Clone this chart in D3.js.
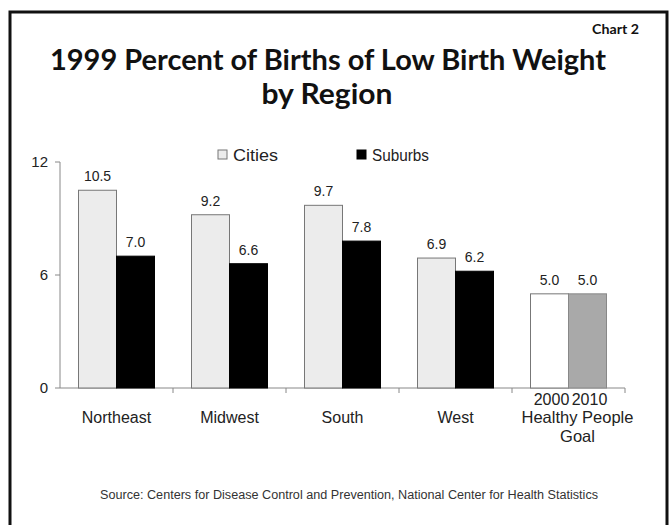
<!DOCTYPE html>
<html><head><meta charset="utf-8">
<script src="https://cdn.jsdelivr.net/npm/d3@7"></script>
<style>body{margin:0;background:#fff}svg{display:block}</style>
</head><body>
<svg id="c" width="671" height="525"></svg>
<script>
const categories = ["Northeast", "Midwest", "South", "West", "Healthy People Goal"];
const seriesNames = ["Cities", "Suburbs"];
const cities = [10.5, 9.2, 9.7, 6.9];
const suburbs = [7.0, 6.6, 7.8, 6.2];
const goalLabels = ["2000", "2010"];
const goalValues = [5.0, 5.0];
const yTicks = [0, 6, 12];

const svg = d3.select("#c");
const font = "Arial, 'Liberation Sans', sans-serif";
const titleFont = "Lato, 'Open Sans', sans-serif";

svg.append("rect").attr("x", 10).attr("y", 12).attr("width", 657).attr("height", 530)
  .attr("fill", "#fff").attr("stroke", "#111").attr("stroke-width", 3);

svg.append("text").attr("x", 592).attr("y", 34)
  .attr("font-family", titleFont).attr("font-weight", 700).attr("font-size", 13)
  .attr("textLength", 47).attr("lengthAdjust", "spacingAndGlyphs")
  .attr("fill", "#111").text("Chart 2");

const titleAttrs = sel => sel.attr("text-anchor", "middle")
  .attr("font-family", titleFont).attr("font-weight", 700).attr("font-size", 28)
  .attr("fill", "#111").attr("lengthAdjust", "spacingAndGlyphs");
svg.append("text").call(titleAttrs).attr("x", 328).attr("y", 70).attr("textLength", 556)
  .text("1999 Percent of Births of Low Birth Weight");
svg.append("text").call(titleAttrs).attr("x", 327).attr("y", 104).attr("textLength", 131)
  .text("by Region");

const x = d3.scaleBand().domain(categories).range([60, 625]);
const y = d3.scaleLinear().domain([0, 12]).range([388, 162]);
const bw = 38;

// axes
const axisColor = "#888";
svg.append("line").attr("x1", 60).attr("x2", 60).attr("y1", y(12)).attr("y2", y(0)).attr("stroke", axisColor);
svg.append("line").attr("x1", 60).attr("x2", 625).attr("y1", y(0)).attr("y2", y(0)).attr("stroke", axisColor);
yTicks.forEach(t => {
  svg.append("line").attr("x1", 55).attr("x2", 60).attr("y1", y(t)).attr("y2", y(t)).attr("stroke", axisColor);
  svg.append("text").attr("x", 48).attr("y", y(t) + 5).attr("text-anchor", "end")
    .attr("font-family", font).attr("font-size", 15).attr("fill", "#222").text(t);
});
categories.forEach((c, i) => {
  const xx = x(c) + x.bandwidth();
  svg.append("line").attr("x1", xx).attr("x2", xx).attr("y1", y(0)).attr("y2", y(0) + 5).attr("stroke", axisColor);
});

const valFmt = d3.format(".1f");
function bar(xpos, v, fill, stroke) {
  svg.append("rect").attr("x", xpos).attr("y", y(v)).attr("width", bw).attr("height", y(0) - y(v))
    .attr("fill", fill).attr("stroke", stroke).attr("stroke-width", 1);
  svg.append("text").attr("x", xpos + bw / 2).attr("y", y(v) - 9).attr("text-anchor", "middle")
    .attr("font-family", font).attr("font-size", 14).attr("fill", "#222").text(valFmt(v));
}
cities.forEach((v, i) => {
  const cx = x(categories[i]) + x.bandwidth() / 2;
  bar(cx - bw, v, "#ececec", "#777");
  bar(cx, suburbs[i], "#000", "#000");
});
{
  const cx = x(categories[4]) + x.bandwidth() / 2;
  bar(cx - bw, goalValues[0], "#fff", "#777");
  bar(cx, goalValues[1], "#a9a9a9", "#888");
  goalLabels.forEach((g, j) => {
    svg.append("text").attr("x", cx - bw / 2 + j * bw + 2).attr("y", 405).attr("text-anchor", "middle")
      .attr("font-family", font).attr("font-size", 16).attr("fill", "#222").text(g);
  });
}
categories.forEach((c, i) => {
  const cx = x(c) + x.bandwidth() / 2;
  if (i < 4) {
    svg.append("text").attr("x", cx).attr("y", 423).attr("text-anchor", "middle")
      .attr("font-family", font).attr("font-size", 16).attr("fill", "#222").text(c);
  } else {
    svg.append("text").attr("x", cx + 9).attr("y", 423).attr("text-anchor", "middle")
      .attr("font-family", font).attr("font-size", 16.5).attr("fill", "#222").text("Healthy People");
    svg.append("text").attr("x", cx + 9).attr("y", 442).attr("text-anchor", "middle")
      .attr("font-family", font).attr("font-size", 16.5).attr("fill", "#222").text("Goal");
  }
});

// legend
const legendItems = [
  {name: seriesNames[0], fill: "#ececec", stroke: "#777", x: 218, len: 45},
  {name: seriesNames[1], fill: "#000", stroke: "#000", x: 357, len: 57}
];
legendItems.forEach(d => {
  svg.append("rect").attr("x", d.x).attr("y", 150).attr("width", 9).attr("height", 9)
    .attr("fill", d.fill).attr("stroke", d.stroke);
  svg.append("text").attr("x", d.x + 15).attr("y", 161).attr("font-family", font)
    .attr("font-size", 16).attr("textLength", d.len).attr("lengthAdjust", "spacingAndGlyphs")
    .attr("fill", "#222").text(d.name);
});

svg.append("text").attr("x", 349).attr("y", 499).attr("text-anchor", "middle")
  .attr("font-family", font).attr("font-size", 12.5).attr("fill", "#333")
  .attr("textLength", 498).attr("lengthAdjust", "spacingAndGlyphs")
  .text("Source: Centers for Disease Control and Prevention, National Center for Health Statistics");
</script>
</body></html>
